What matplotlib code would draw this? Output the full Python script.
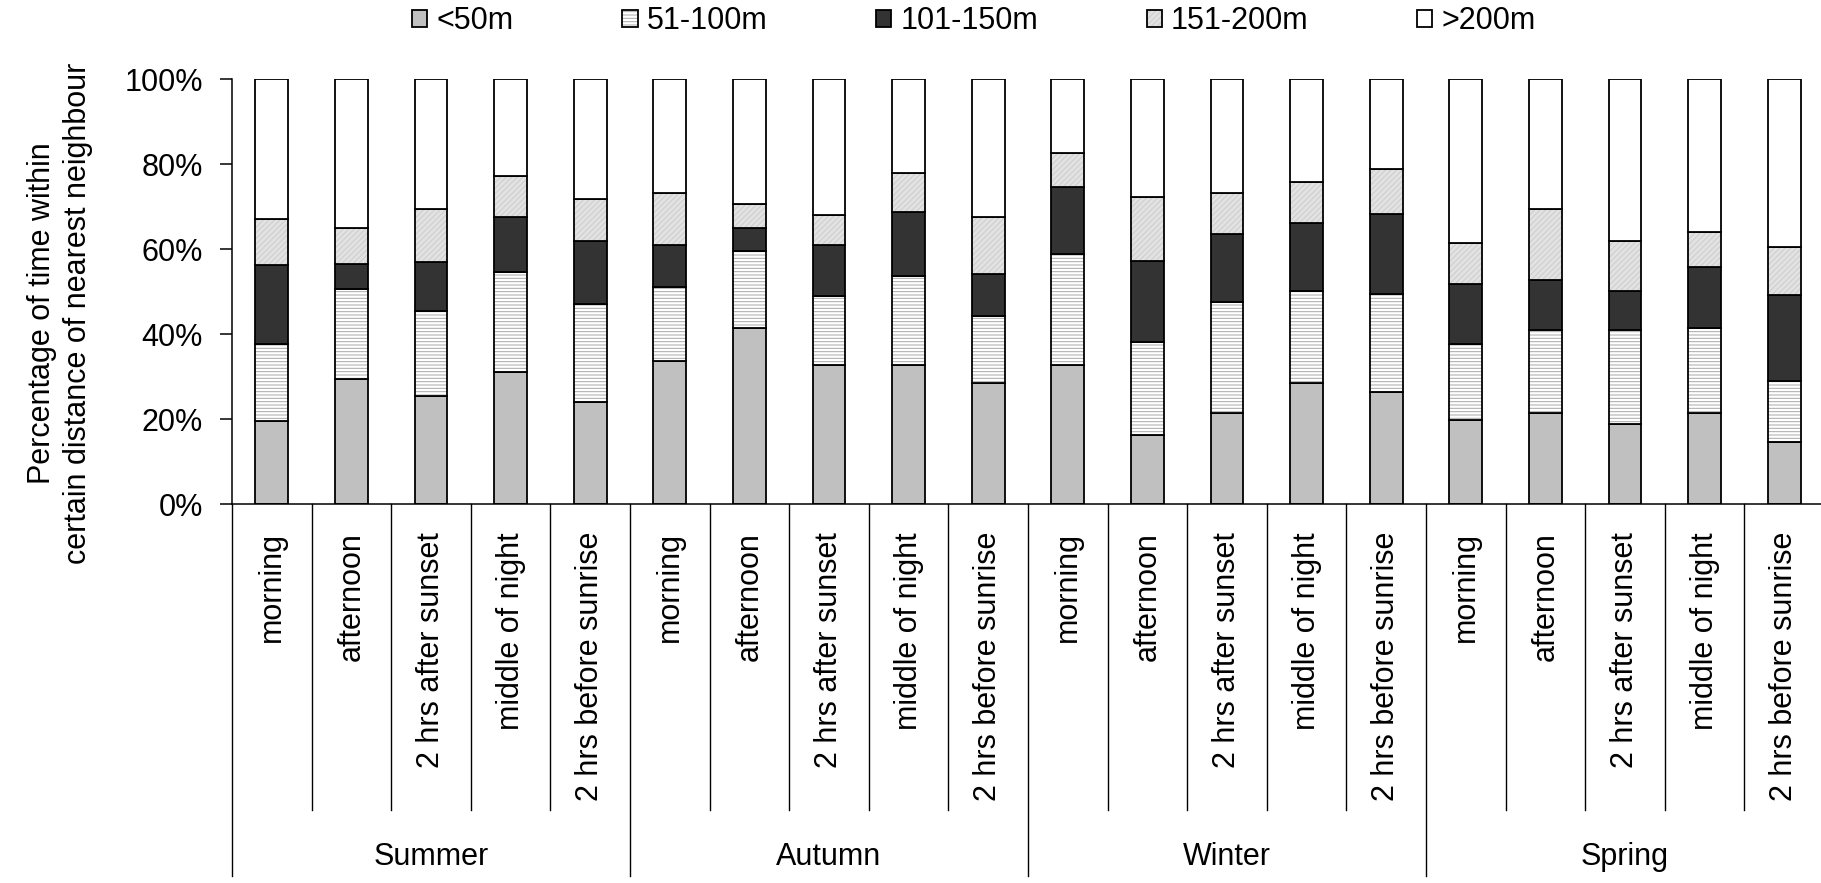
import matplotlib

matplotlib.use("Agg")

import matplotlib.pyplot as plt  # noqa: E402
from matplotlib.legend_handler import HandlerTuple  # noqa: E402
from matplotlib.ticker import PercentFormatter  # noqa: E402
import numpy as np  # noqa: E402

plt.rcParams["font.family"] = ["Liberation Sans", "DejaVu Sans"]
plt.rcParams["font.size"] = 22
plt.rcParams["hatch.linewidth"] = 0.7

# Categories: 5 times of day inside each of 4 seasons
seasons = ["Summer", "Autumn", "Winter", "Spring"]
times = ["morning", "afternoon", "2 hrs after sunset", "middle of night",
         "2 hrs before sunrise"]
labels = times * len(seasons)

# Percentage of time per nearest-neighbour distance class
lt50 = [19.5, 29.6, 25.6, 31.1, 24.0, 33.7, 41.4, 32.7, 32.7, 28.6,
        32.7, 16.2, 21.4, 28.6, 26.5, 19.8, 21.4, 18.8, 21.4, 14.7]
d51_100 = [18.3, 21.1, 20.0, 23.6, 23.1, 17.5, 18.1, 16.4, 21.0, 15.8,
           26.3, 22.1, 26.1, 21.6, 23.1, 18.0, 19.5, 22.1, 20.0, 14.4]
d101_150 = [18.5, 5.8, 11.3, 13.0, 14.9, 9.8, 5.6, 11.9, 15.0, 9.9,
            15.7, 19.0, 16.1, 15.9, 18.6, 14.0, 11.9, 9.4, 14.5, 20.2]
d151_200 = [10.8, 8.6, 12.7, 9.6, 9.8, 12.2, 5.6, 7.1, 9.2, 13.4,
            7.9, 14.9, 9.7, 9.7, 10.7, 9.6, 16.8, 11.7, 8.1, 11.2]
gt200 = [32.9, 34.9, 30.4, 22.7, 28.2, 26.8, 29.3, 31.9, 22.1, 32.3,
         17.4, 27.8, 26.7, 24.2, 21.1, 38.6, 30.4, 38.0, 36.0, 39.5]

series = [
    ("<50m", lt50, dict(facecolor="#c0c0c0", edgecolor="#c0c0c0", hatch=None)),
    ("51-100m", d51_100, dict(facecolor="white", edgecolor="#a8a8a8", hatch="-----")),
    ("101-150m", d101_150, dict(facecolor="#333333", edgecolor="#333333", hatch=None)),
    ("151-200m", d151_200, dict(facecolor="#e2e2e2", edgecolor="#cccccc", hatch="//////")),
    (">200m", gt200, dict(facecolor="white", edgecolor="white", hatch=None)),
]

fig = plt.figure(figsize=(18.21, 8.83), dpi=100)
ax = fig.add_axes([232 / 1821, 1 - 504.3 / 883, 1592 / 1821, 425 / 883])

x = np.arange(len(labels))
width = 0.41
bottom = np.zeros(len(labels))
handles = []
for name, values, style in series:
    values = np.asarray(values)
    fill = ax.bar(x, values, width, bottom=bottom, linewidth=0, **style)
    edge = ax.bar(x, values, width, bottom=bottom, fill=False,
                  edgecolor="black", linewidth=1.3)
    handles.append(((fill, edge), name))
    bottom += values

ax.set_xlim(-0.5, len(labels) - 0.5)
ax.set_ylim(0, 100)
ax.set_yticks(np.arange(0, 101, 20))
ax.yaxis.set_major_formatter(PercentFormatter(decimals=0))
ax.tick_params(axis="y", length=8.5, width=1.1, pad=12.5)
ax.set_xticks(x, labels, rotation=90, va="top")
ax.tick_params(axis="x", length=0, pad=20)

for side in ("top", "right"):
    ax.spines[side].set_visible(False)
for side in ("left", "bottom"):
    ax.spines[side].set_linewidth(1.1)

ax.set_ylabel("Percentage of time within\ncertain distance of nearest neighbour",
              linespacing=1.3)
ax.yaxis.set_label_coords(-0.087, 0.45)

# category separators below the axis: long ones between seasons
trans = ax.get_xaxis_transform()
for b in np.arange(-0.5, len(labels) - 1):
    depth = -0.875 if (b + 0.5) % len(times) == 0 else -0.719
    ax.plot([b, b], [0, depth], color="black", linewidth=1.0,
            transform=trans, clip_on=False)

for i, season in enumerate(seasons):
    centre = i * len(times) + (len(times) - 1) / 2
    ax.text(centre, -0.83, season, transform=trans, ha="center", va="center")

fig.legend([h for h, _ in handles], [n for _, n in handles],
           handler_map={tuple: HandlerTuple(ndivide=1)},
           loc="center", bbox_to_anchor=(974 / 1821, 0.976), ncol=5,
           frameon=False, handlelength=0.5, handleheight=0.5,
           handletextpad=0.3, columnspacing=3.55, borderpad=0)

fig.savefig("out.png", dpi=100)
